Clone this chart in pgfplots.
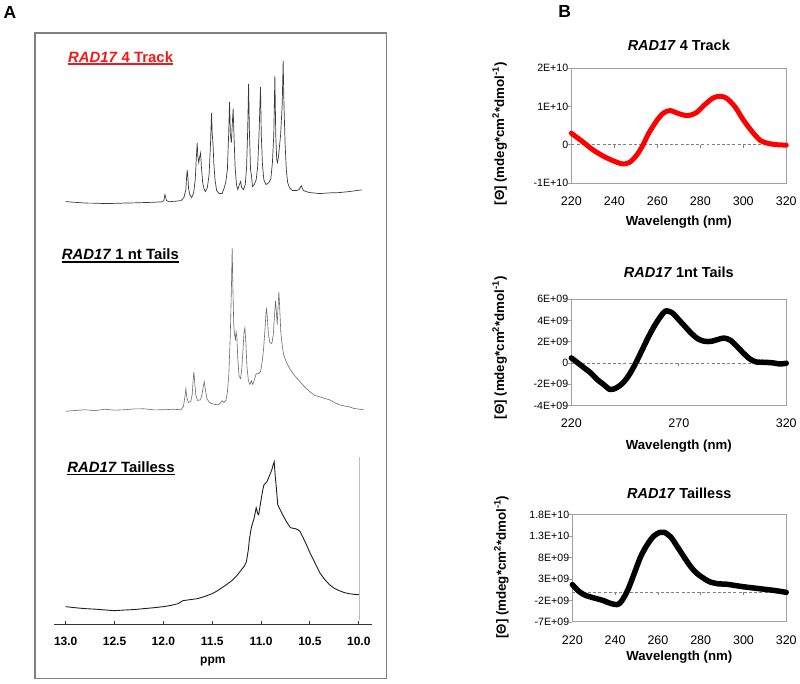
\documentclass[border=0pt]{standalone}
\usepackage{pgfplots}
\pgfplotsset{compat=1.18}
\usepackage{fontspec}
\setmainfont{Liberation Sans}
\newcommand\fs[1]{\fontsize{#1}{#1}\selectfont}
\newcommand\myul[2]{\setbox0\hbox{#2}\rlap{\color{#1}\rule[-2.6pt]{\wd0}{1.3pt}}\box0}
\definecolor{frame}{HTML}{A0A0A0}
\definecolor{specA}{HTML}{3A3A3A}
\definecolor{specB}{HTML}{6A6A6A}
\definecolor{specC}{HTML}{1E1E1E}
\definecolor{cdred}{HTML}{FF0000}
\definecolor{ttlred}{HTML}{F01818}

\pgfplotsset{
  cd/.style={
    scale only axis, xmin=220, xmax=320, clip=false,
    axis line style={frame, line width=0.9pt},
    tick align=outside, tick pos=left, major tick length=3pt,
    ytick style={frame, line width=0.8pt}, xtick style={draw=none},
    scaled ticks=false,
    /pgf/number format/assume math mode=true,
    x tick label style={font=\fs{12.5}, anchor=center, yshift=-15pt},
    y tick label style={font=\fs{10.6}, inner sep=0pt, anchor=east},
    title style={font=\fs{14.5}\bfseries, at={(axis description cs:0.5,1)}, anchor=center},
    xlabel style={font=\fs{13.2}\bfseries, at={(axis description cs:0.5,0)}, anchor=center},
    ylabel style={font=\fs{13.3}\bfseries, anchor=center},
    ylabel={[Θ] (mdeg*cm\textsuperscript{2}*dmol\textsuperscript{-1})},
    xlabel={Wavelength (nm)},
  },
  zeroline/.style={gray, line width=0.8pt, dash pattern=on 3pt off 2.2pt},
}

\begin{document}
\begin{tikzpicture}[x=1pt,y=1pt]
\path (0,0) rectangle (800,684);

% panel letters
\node[font=\fs{17.5}\bfseries] at (10,671) {A};
\node[font=\fs{17.5}\bfseries] at (565,672) {B};

% frame of panel A
\draw[gray, line width=1.3pt] (35,651) rectangle (387,5);

% ---------------- Panel A : NMR ----------------
\begin{axis}[
  at={(54pt,59.3pt)}, anchor=south west,
  scale only axis, width=318pt, height=584.7pt,
  x dir=reverse, xmin=9.867, xmax=13.12, ymin=0, ymax=584.7,
  axis x line=bottom, axis y line=none,
  axis line style={-, line width=1.6pt, black!80},
  xtick={10,10.5,11,11.5,12,12.5,13}, ytick=\empty,
  tick align=inside, major tick length=3pt,
  tick style={black!80, line width=1pt},
  xticklabel style={font=\fs{12}\bfseries, anchor=center, yshift=-17.3pt},
  /pgf/number format/fixed, /pgf/number format/fixed zerofill,
  /pgf/number format/precision=1, /pgf/number format/assume math mode=true,
  xlabel={ppm},
  xlabel style={font=\fs{12}\bfseries, at={(axis description cs:0.5,0)}, anchor=center, yshift=-37pt},
  clip=false,
]
% RAD17 4 Track
\addplot[specA, line width=0.7pt] coordinates {
(13.00,423)(12.90,422.2)(12.80,421.5)(12.70,421.4)(12.60,421)(12.50,421.2)(12.40,421.5)(12.30,421.7)(12.20,422)(12.10,422.3)(12.02,422.7)
(11.995,424)(11.988,428)(11.984,430)(11.978,428)(11.968,424)
(11.94,422.8)(11.90,423.2)(11.86,423.5)(11.82,424)
(11.79,427)(11.770,435)(11.762,448)(11.756,454.7)(11.750,448)(11.742,436)(11.730,430)(11.71,427)
(11.69,432)(11.674,445)(11.662,468)(11.654,481.7)(11.647,468)(11.638,462)(11.628,468)(11.619,471.7)(11.611,458)(11.598,442)(11.585,436)(11.57,433)
(11.55,437)(11.532,450)(11.518,480)(11.507,511.7)(11.500,490)(11.492,481)(11.484,462)(11.472,445)(11.455,434)(11.43,431)(11.40,431)
(11.38,436)(11.362,442)(11.345,455)(11.332,490)(11.323,522.7)(11.314,490)(11.304,482)(11.295,500)(11.286,515.7)(11.277,488)(11.266,458)(11.252,440)(11.238,435)
(11.222,440)(11.210,443)(11.198,437)(11.18,435)(11.162,440)(11.148,458)(11.137,495)(11.128,540.7)(11.120,495)(11.108,455)(11.097,448)(11.088,438)
(11.07,440)(11.050,445)(11.035,458)(11.022,488)(11.006,537.7)(10.998,490)(10.986,460)(10.972,445)(10.95,440)
(10.92,442)(10.90,446)(10.884,462)(10.870,490)(10.859,548.7)(10.850,490)(10.840,465)(10.832,462)(10.822,468)(10.800,490)(10.784,520)(10.774,563.7)(10.766,520)(10.754,480)(10.742,455)(10.728,442)(10.71,437)(10.68,434)
(10.64,434)(10.61,435)(10.596,437.7)(10.586,438.7)(10.578,436)(10.565,434)(10.54,433)(10.50,432)(10.40,431)(10.30,431.7)(10.20,432)(10.10,433)(9.97,434.7)
};
% RAD17 1 nt Tails
\addplot[specB, line width=0.6pt] coordinates {
(13.00,213.2)(12.90,214)(12.80,214.7)(12.70,213.8)(12.60,215.2)(12.50,214.3)(12.40,214.7)(12.30,215.5)(12.20,215.7)(12.10,214.6)(12.00,214.7)(11.90,215.2)(11.82,214.7)
(11.795,218)(11.782,226)(11.770,235.7)(11.760,227)(11.745,222)(11.720,223)(11.705,230)(11.695,245)(11.688,252.7)(11.680,243)(11.668,229)(11.650,224)(11.62,224.7)
(11.605,230)(11.592,238)(11.582,242.7)(11.572,236)(11.555,226)(11.53,222)(11.50,220.7)(11.47,220)(11.44,219.7)(11.42,221)(11.40,223.7)(11.38,222)(11.36,224)
(11.345,232)(11.330,250)(11.315,290)(11.303,340)(11.296,376.7)(11.288,335)(11.280,300)(11.272,290)(11.262,285)(11.256,292.7)(11.248,288)(11.238,265)(11.225,248)(11.210,246)
(11.198,255)(11.185,275)(11.175,292)(11.166,296.7)(11.156,282)(11.145,258)(11.130,244)(11.115,240)(11.100,243.7)(11.085,240)(11.065,246)(11.050,250.7)(11.025,251)(11.005,253)
(10.990,262)(10.975,275)(10.960,295)(10.950,312)(10.944,315.7)(10.937,308)(10.925,290)(10.910,282)(10.890,281)(10.875,290)(10.862,310)(10.852,323.7)(10.843,312)(10.835,300)
(10.826,318)(10.818,332.7)(10.810,318)(10.798,292)(10.785,280)(10.77,270)(10.74,262)(10.70,254.7)(10.65,248)(10.60,242.7)(10.55,237)(10.50,232.7)(10.45,229)(10.40,227.7)
(10.35,226)(10.30,224.7)(10.25,222)(10.20,219.7)(10.15,218.5)(10.10,217.7)(10.05,216)(9.95,214.7)
};
% RAD17 Tailless
\addplot[specC, line width=0.9pt] coordinates {
(13.00,17.7)(12.90,16.6)(12.80,15.7)(12.70,15.2)(12.60,14.4)(12.50,13.7)(12.40,14.3)(12.30,14.8)(12.20,15.7)(12.10,16.6)(12.00,17.7)(11.92,19.0)(11.85,20.7)
(11.80,23.7)(11.72,24.8)(11.65,25.7)(11.58,27.8)(11.50,30.7)(11.45,33.4)(11.40,36.7)(11.35,40.0)(11.30,43.7)(11.25,48.5)(11.20,54.7)(11.17,58.5)(11.15,62.7)
(11.13,75)(11.12,84.7)(11.10,96.7)(11.07,106.7)(11.05,116.7)(11.035,111)(11.025,109.7)(11.00,124.7)(10.98,136)(10.97,139.7)(10.94,142.7)(10.91,149.7)(10.89,154.7)(10.875,160)(10.866,162.7)
(10.855,148)(10.845,138)(10.83,120)(10.82,117.7)(10.78,109.7)(10.74,102.7)(10.70,96.7)(10.65,95.7)(10.62,94.5)(10.60,92.7)(10.55,82.7)(10.50,71.7)(10.45,61.7)(10.40,51.7)
(10.35,45)(10.30,39.7)(10.25,36)(10.20,33.7)(10.15,31.8)(10.10,30.7)(10.05,30.0)(10.00,29.7)
};
\addplot[black!25, line width=0.5pt] coordinates {(10,4.7)(10,167.7)};
\end{axis}

\node[anchor=west, inner sep=0pt, font=\fs{14.9}\bfseries, text=ttlred] at (68,626) {\myul{ttlred}{\textit{RAD17} 4 Track}};
\node[anchor=west, inner sep=0pt, font=\fs{14.9}\bfseries] at (61.7,428) {\myul{black}{\textit{RAD17} 1 nt Tails}};
\node[anchor=west, inner sep=0pt, font=\fs{14.9}\bfseries] at (67.3,215) {\myul{black}{\textit{RAD17} Tailless}};

% ---------------- Panel B : CD ----------------
\begin{axis}[cd,
  at={(571.7pt,500.7pt)}, anchor=south west, width=215pt, height=115.3pt,
  ymin=-1e10, ymax=2e10,
  ytick={-1e10,0,1e10,2e10}, yticklabels={-1E+10,0,1E+10,2E+10},
  xtick={220,240,260,280,300,320},
  title={\textit{RAD17} 4 Track}, title style={yshift=17pt},
  xlabel style={yshift=-38.7pt},
  ylabel style={at={(axis description cs:-0.3335,0.428)}},
]
\addplot[zeroline] coordinates {(220,0)(320,0)};
\draw[gray, line width=0.8pt] (axis cs:240,0) -- ++(0pt,-3pt);
\draw[gray, line width=0.8pt] (axis cs:260,0) -- ++(0pt,-3pt);
\draw[gray, line width=0.8pt] (axis cs:280,0) -- ++(0pt,-3pt);
\draw[gray, line width=0.8pt] (axis cs:300,0) -- ++(0pt,-3pt);
\addplot[cdred, line width=5pt, line cap=round, line join=round, smooth] coordinates {
(220,3.0e9)(225,0.9e9)(230,-1.3e9)(235,-3.0e9)(240,-4.3e9)(244,-5.0e9)(247,-4.6e9)(250,-3.0e9)(253,-0.4e9)(256,3.0e9)(260,6.5e9)(263,8.3e9)(266,8.9e9)(270,8.1e9)(274,7.6e9)(278,8.3e9)(282,10.4e9)(286,12.2e9)(289,12.6e9)(292,12.2e9)(296,10.0e9)(300,6.5e9)(304,3.5e9)(308,1.1e9)(312,0.3e9)(316,0.0e9)(320,-0.1e9)
};
\end{axis}

\begin{axis}[cd,
  at={(571.7pt,278.3pt)}, anchor=south west, width=215pt, height=106.4pt,
  ymin=-4e9, ymax=6e9,
  ytick={-4e9,-2e9,0,2e9,4e9,6e9}, yticklabels={-4E+09,-2E+09,0,2E+09,4E+09,6E+09},
  xtick={220,270,320},
  title={\textit{RAD17} 1nt Tails}, title style={yshift=21pt},
  xlabel style={yshift=-41pt},
  ylabel style={at={(axis description cs:-0.3335,0.542)}},
]
\addplot[zeroline] coordinates {(220,0)(320,0)};
\draw[gray, line width=0.8pt] (axis cs:270,0) -- ++(0pt,-3pt);
\addplot[black, line width=5.5pt, line cap=round, line join=round, smooth] coordinates {
(220,0.47e9)(223,0)(226,-0.47e9)(229,-0.94e9)(232,-1.56e9)(235,-2.03e9)(238,-2.5e9)(241,-2.34e9)(244,-1.88e9)(247,-1.09e9)(250,0)(253,1.25e9)(256,2.5e9)(259,3.6e9)(262,4.5e9)(264,4.9e9)(267,4.7e9)(270,4.06e9)(273,3.4e9)(276,2.75e9)(279,2.25e9)(282,2.03e9)(285,2.03e9)(288,2.19e9)(291,2.34e9)(294,2.13e9)(297,1.56e9)(300,0.94e9)(303,0.38e9)(306,0.09e9)(310,0.06e9)(314,0)(317,-0.1e9)(320,-0.03e9)
};
\end{axis}

\begin{axis}[cd,
  at={(572.7pt,61.7pt)}, anchor=south west, width=214pt, height=107.3pt,
  ymin=-7e9, ymax=1.8e10,
  ytick={-7e9,-2e9,3e9,8e9,1.3e10,1.8e10}, yticklabels={-7E+09,-2E+09,3E+09,8E+09,1.3E+10,1.8E+10},
  xtick={220,240,260,280,300,320},
  title={\textit{RAD17} Tailless}, title style={yshift=15pt},
  xlabel style={yshift=-35pt},
  ylabel style={at={(axis description cs:-0.332,0.51)}},
]
\addplot[zeroline] coordinates {(220,0)(320,0)};
\draw[gray, line width=0.8pt] (axis cs:240,0) -- ++(0pt,-3pt);
\draw[gray, line width=0.8pt] (axis cs:260,0) -- ++(0pt,-3pt);
\draw[gray, line width=0.8pt] (axis cs:280,0) -- ++(0pt,-3pt);
\draw[gray, line width=0.8pt] (axis cs:300,0) -- ++(0pt,-3pt);
\addplot[black, line width=5.5pt, line cap=round, line join=round, smooth] coordinates {
(220,1.7e9)(223,0.15e9)(226,-0.78e9)(230,-1.4e9)(234,-1.94e9)(238,-2.7e9)(241,-2.95e9)(243,-2.17e9)(246,0.54e9)(249,4.4e9)(252,8.3e9)(255,11.0e9)(258,13.0e9)(261,13.9e9)(263,13.9e9)(266,12.8e9)(269,10.6e9)(272,8.3e9)(275,6.1e9)(278,4.4e9)(281,3.3e9)(284,2.4e9)(288,1.9e9)(292,1.8e9)(296,1.5e9)(300,1.2e9)(305,0.9e9)(310,0.6e9)(315,0.3e9)(320,-0.1e9)
};
\end{axis}
\end{tikzpicture}
\end{document}
